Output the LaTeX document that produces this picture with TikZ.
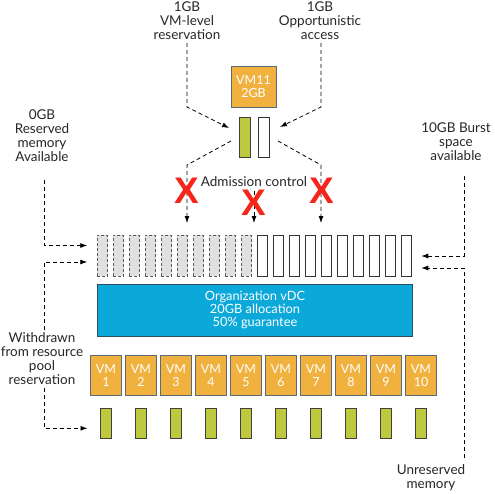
\documentclass[tikz,border=0pt]{standalone}
\usepackage{fontspec}
\setmainfont{Lato}
\newfontfamily\xfont{Liberation Sans}
\usetikzlibrary{arrows.meta}

\definecolor{vmorange}{HTML}{F1B13F}
\definecolor{vmedge}{HTML}{5C6B77}
\definecolor{resgreen}{HTML}{BFC93D}
\definecolor{vdcblue}{HTML}{0BA8DA}
\definecolor{vdcedge}{HTML}{2B4E63}
\definecolor{usedgray}{HTML}{E0E0E0}
\definecolor{nored}{HTML}{F5251B}

\begin{document}
\begin{tikzpicture}[x=1pt,y=-1pt,inner sep=0pt,outer sep=0pt,
  >={Latex[length=7pt,width=5pt]},
  lbl/.style={align=center,font=\fontsize{13.5}{14}\selectfont,text=black!85},
  dsh/.style={dash pattern=on 4pt off 3pt,line width=0.8pt},
  usedcell/.style={draw=black!65,fill=usedgray,dash pattern=on 3pt off 2pt,line width=0.8pt,minimum width=10.5pt,minimum height=41pt},
  freecell/.style={draw=black!80,fill=white,line width=0.8pt,minimum width=10.5pt,minimum height=41pt},
  vmbox/.style={draw=vmedge,fill=vmorange,line width=1pt,align=center,text=white,font=\fontsize{12.5}{13}\selectfont},
  resbar/.style={draw=black!75,fill=resgreen,line width=0.8pt,minimum width=11pt},
  nomark/.style={text=nored,font=\xfont\bfseries\fontsize{37}{37}\selectfont}]

\useasboundingbox (0,0) rectangle (495,493);

% labels
\node[lbl] (vmres) at (187,21) {1GB\\VM-level\\reservation};
\node[lbl] (oppacc) at (320,21) {1GB\\Opportunistic\\access};
\node[lbl] (res0) at (42,136) {0GB\\Reserved\\memory\\Available};
\node[lbl] (burst) at (456,142) {10GB Burst\\space\\available};
\node[lbl] (withdrawn) at (42,359) {Withdrawn\\from resource\\pool\\reservation};
\node[lbl] (unres) at (431,478) {Unreserved\\memory};
\node[lbl] (admit) at (254,182) {Admission control};

% new VM and its memory
\node[vmbox,minimum width=45pt,minimum height=41pt] (vm11) at (253.5,86.5) {VM11\\2GB};
\node[resbar,minimum height=40pt] (gbar) at (245,137) {};
\node[freecell,minimum width=11pt,minimum height=40pt] (wbar) at (264,137) {};

% resource pool memory
\foreach \i in {1,...,10}
  \node[usedcell] (m\i) at ({102.5+16*(\i-1)},255.5) {};
\foreach \i in {11,...,20}
  \node[freecell] (m\i) at ({102.5+16*(\i-1)},255.5) {};

\node[draw=vdcedge,fill=vdcblue,line width=1pt,minimum width=315.5pt,minimum height=52pt,
  align=center,text=white,font=\fontsize{12.8}{13}\selectfont] (ovdc) at (255,310)
  {Organization vDC\\20GB allocation\\50\% guarantee};

\foreach \i in {1,...,10} {
  \node[vmbox,minimum width=31pt,minimum height=40pt] (vm\i) at ({106+35*(\i-1)},375.3) {VM\\\i};
  \node[resbar,minimum height=30pt] (r\i) at ({106+35*(\i-1)},423.3) {};
}

% connectors
\coordinate (vmresbend) at (187,107);
\coordinate (oppbend) at (321,107);
\coordinate (gin) at (229,128);
\coordinate (win) at (280,127);
\draw[dsh,->] (vmres.south) ++(0,3) -- (vmresbend) -- (gin);
\draw[dsh,->] (oppacc.south) ++(1,3) -- (oppbend) -- (win);

\coordinate (gout) at (231,141);
\coordinate (wout) at (278,141);
\draw[dsh,->] (gout) -- (187,165) -- (187,223);
\draw[dsh,->] (wout) -- (321,165) -- (321,223);
\draw[dsh,->] (admit.south) ++(0,4) -- (254,223);

\coordinate (res0top) at (44,180);
\draw[dsh,->] (res0top) |- ([xshift=-10pt,yshift=10pt]m1.west);
\draw[dsh,->] (withdrawn.north) ++(2,-3) |- ([xshift=-10pt,yshift=-6.5pt]m1.west);
\draw[dsh,->] (withdrawn.south) ++(2,3) |- ([xshift=-13pt,yshift=-5pt]r1.west);

\coordinate (bursttop) at (464,176);
\coordinate (unrestop) at (464,458);
\draw[dsh,->] (bursttop) |- ([xshift=9.5pt,yshift=-0.5pt]m20.east);
\draw[dsh,->] (unrestop) |- ([xshift=9.5pt,yshift=-12.5pt]m20.east);

% rejected
\node[nomark] (x1) at (187,191) {X};
\node[nomark] (x2) at (254,203) {X};
\node[nomark] (x3) at (322,191) {X};
\end{tikzpicture}
\end{document}
